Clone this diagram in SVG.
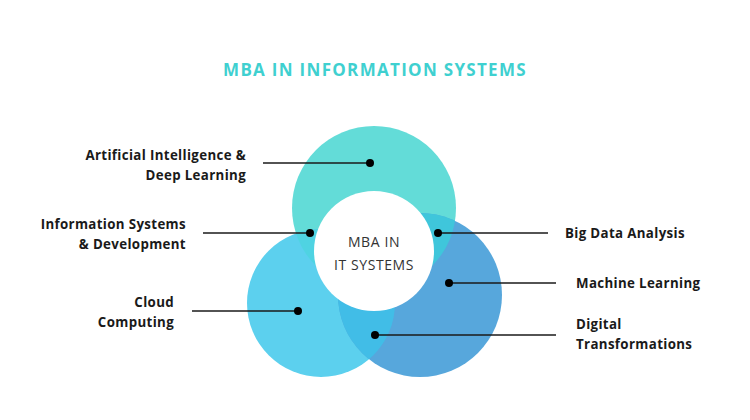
<svg xmlns="http://www.w3.org/2000/svg" width="750" height="420" viewBox="0 0 750 420">
<style>
.l{font-family:"Open Sans","Liberation Sans",sans-serif;font-weight:700;font-size:13.3px;letter-spacing:0.35px;fill:#1a1a1a}
.r{text-anchor:end}
.c{stroke:#1a1a1a;stroke-width:1.5}
</style>
<defs>
<clipPath id="cT"><circle cx="374" cy="208" r="82"/></clipPath>
<clipPath id="cL"><circle cx="321" cy="303" r="74"/></clipPath>
</defs>
<rect width="750" height="420" fill="#fff"/>
<text x="375" y="76" text-anchor="middle" font-family="'Open Sans','Liberation Sans',sans-serif" font-weight="700" font-size="17" letter-spacing="1.3" fill="#3fd0d0">MBA IN INFORMATION SYSTEMS</text>
<g id="circles">
<circle cx="374" cy="208" r="82" fill="#63dcd8"/>
<circle cx="321" cy="303" r="74" fill="#5cd0ee"/>
<circle cx="420" cy="295" r="82" fill="#57a7dc"/>
<circle cx="321" cy="303" r="74" fill="#4fd3e2" clip-path="url(#cT)"/>
<circle cx="420" cy="295" r="82" fill="#3fc6db" clip-path="url(#cT)"/>
<circle cx="420" cy="295" r="82" fill="#41bde7" clip-path="url(#cL)"/>
</g>
<g id="center">
<circle cx="374" cy="251" r="60" fill="#fff"/>
<text x="374" y="247" text-anchor="middle" font-family="'Open Sans','Liberation Sans',sans-serif" font-size="14" fill="#333" letter-spacing="0.6">MBA IN</text>
<text x="374" y="270" text-anchor="middle" font-family="'Open Sans','Liberation Sans',sans-serif" font-size="14" fill="#333" letter-spacing="0.6">IT SYSTEMS</text>
</g>
<g id="connectors">
<line class="c" x1="263" y1="163" x2="370" y2="163"/><circle cx="370" cy="163" r="4"/>
<line class="c" x1="203" y1="233" x2="310" y2="233"/><circle cx="310" cy="233" r="4"/>
<line class="c" x1="192" y1="311" x2="298" y2="311"/><circle cx="298" cy="311" r="4"/>
<line class="c" x1="438" y1="233" x2="548" y2="233"/><circle cx="438" cy="233" r="4"/>
<line class="c" x1="449" y1="283" x2="556" y2="283"/><circle cx="449" cy="283" r="4"/>
<line class="c" x1="375" y1="335" x2="556" y2="335"/><circle cx="375" cy="335" r="4"/>
</g>
<g id="n1"><text class="l r" x="246" y="160">Artificial Intelligence &amp;</text><text class="l r" x="246" y="180">Deep Learning</text></g>
<g id="n2"><text class="l r" x="186" y="229">Information Systems</text><text class="l r" x="186" y="249">&amp; Development</text></g>
<g id="n3"><text class="l r" x="174" y="307">Cloud</text><text class="l r" x="174" y="327">Computing</text></g>
<g id="n4"><text class="l" x="565" y="238">Big Data Analysis</text></g>
<g id="n5"><text class="l" x="576" y="288">Machine Learning</text></g>
<g id="n6"><text class="l" x="576" y="329">Digital</text><text class="l" x="576" y="349">Transformations</text></g>
</svg>
